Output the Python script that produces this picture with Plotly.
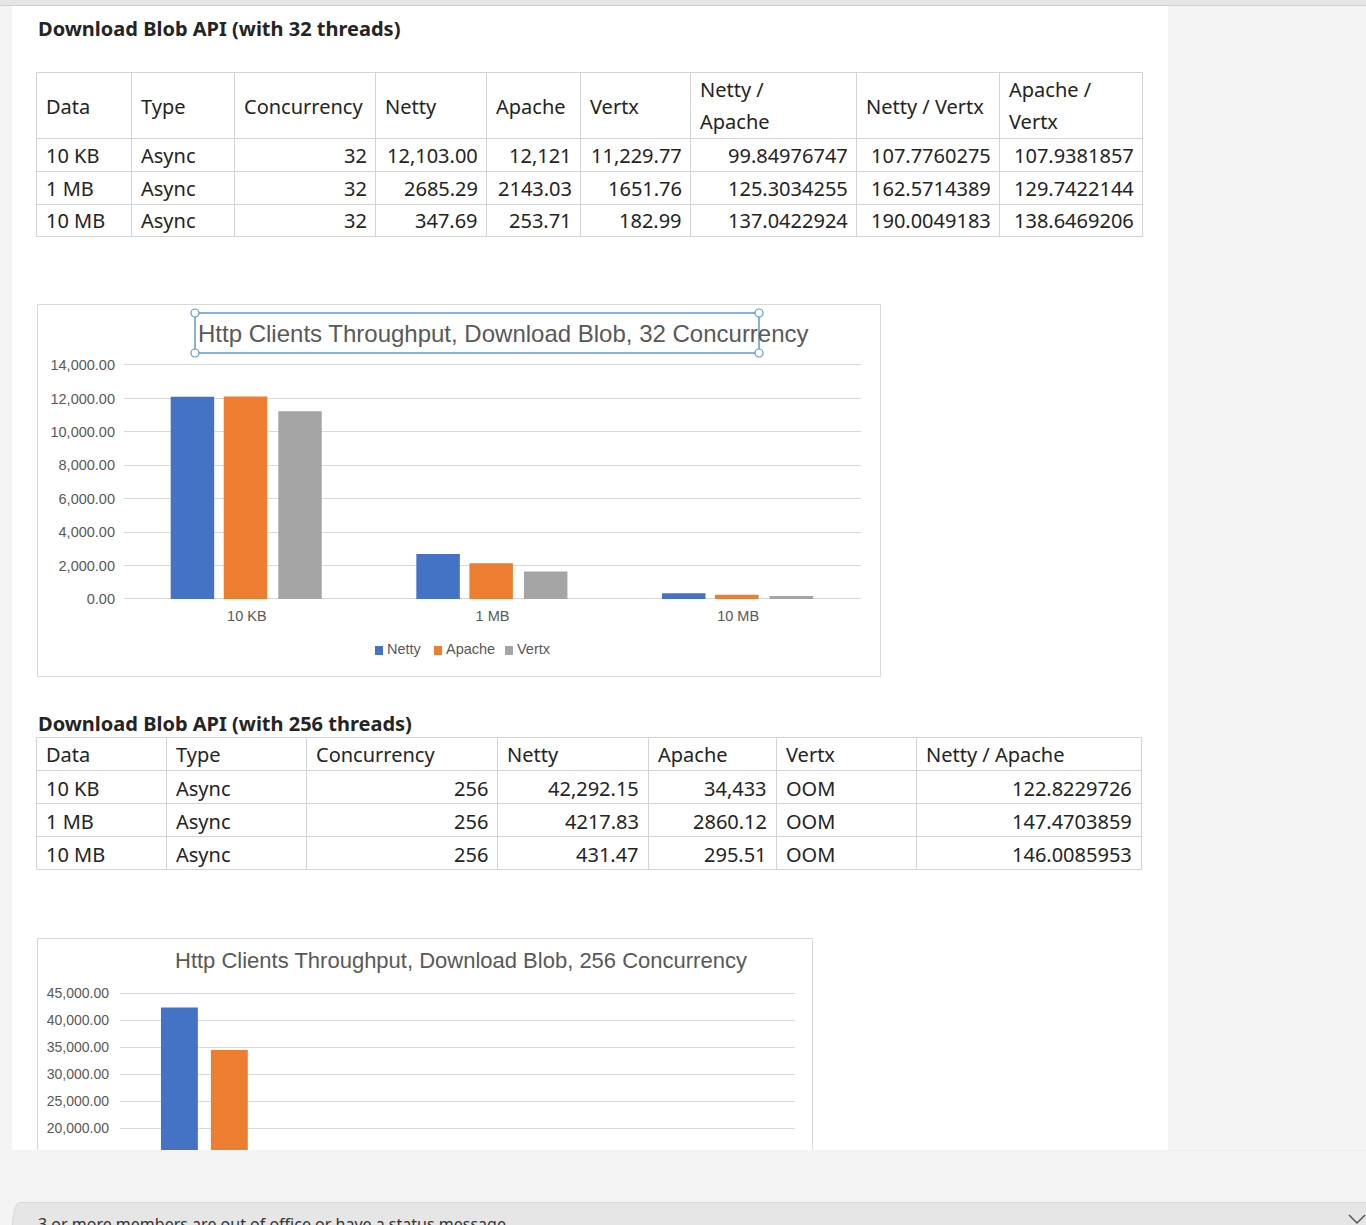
import plotly.graph_objects as go

# ---------------- data ----------------
categories = ["10 KB", "1 MB", "10 MB"]
req_type = ["Async", "Async", "Async"]

t1_title = "Download Blob API (with 32 threads)"
t1_headers = [["Data"], ["Type"], ["Concurrency"], ["Netty"], ["Apache"], ["Vertx"],
              ["Netty /", "Apache"], ["Netty / Vertx"], ["Apache /", "Vertx"]]
t1_conc = ["32", "32", "32"]
t1_netty = ["12,103.00", "2685.29", "347.69"]
t1_apache = ["12,121", "2143.03", "253.71"]
t1_vertx = ["11,229.77", "1651.76", "182.99"]
t1_netty_apache = ["99.84976747", "125.3034255", "137.0422924"]
t1_netty_vertx = ["107.7760275", "162.5714389", "190.0049183"]
t1_apache_vertx = ["107.9381857", "129.7422144", "138.6469206"]

t2_title = "Download Blob API (with 256 threads)"
t2_headers = ["Data", "Type", "Concurrency", "Netty", "Apache", "Vertx", "Netty / Apache"]
t2_conc = ["256", "256", "256"]
t2_netty = ["42,292.15", "4217.83", "431.47"]
t2_apache = ["34,433", "2860.12", "295.51"]
t2_vertx = ["OOM", "OOM", "OOM"]
t2_netty_apache = ["122.8229726", "147.4703859", "146.0085953"]

series_names = ["Netty", "Apache", "Vertx"]
chart1_title = "Http Clients Throughput, Download Blob, 32 Concurrency"
chart2_title = "Http Clients Throughput, Download Blob, 256 Concurrency"
status_text = "3 or more members are out of office or have a status message"


def num(s):
    try:
        return float(s.replace(",", ""))
    except ValueError:
        return None


netty32 = [num(s) for s in t1_netty]
apache32 = [num(s) for s in t1_apache]
vertx32 = [num(s) for s in t1_vertx]
netty256 = [num(s) for s in t2_netty]
apache256 = [num(s) for s in t2_apache]
vertx256 = [num(s) for s in t2_vertx]

# ---------------- helpers ----------------
W, H = 1366, 1225


def X(p):
    return p / W


def Y(p):
    return 1 - p / H


shapes = []
annotations = []

TXT = "#242424"
TFONT = "Noto Sans"
CFONT = "Liberation Sans"
CTXT = "#595959"
GRID = "#d9d9d9"
TLINE = "#d4d4d4"
colors = ["#4472c4", "#ed7d31", "#a5a5a5"]


def rect(x0, y0, x1, y1, fill=None, line=None, lw=1, layer="below"):
    shapes.append(dict(type="rect", xref="paper", yref="paper",
                       x0=X(x0), x1=X(x1), y0=Y(y0), y1=Y(y1),
                       fillcolor=fill if fill else "rgba(0,0,0,0)",
                       line=dict(color=line if line else "rgba(0,0,0,0)", width=lw if line else 0),
                       layer=layer))


def hline(x0, x1, y, color, lw=1, layer="below"):
    shapes.append(dict(type="line", xref="paper", yref="paper",
                       x0=X(x0), x1=X(x1), y0=Y(y), y1=Y(y),
                       line=dict(color=color, width=lw), layer=layer))


def vline(x, y0, y1, color, lw=1, layer="below"):
    shapes.append(dict(type="line", xref="paper", yref="paper",
                       x0=X(x), x1=X(x), y0=Y(y0), y1=Y(y1),
                       line=dict(color=color, width=lw), layer=layer))


def text(x, y, s, size=20, color=TXT, family=TFONT, anchor="left"):
    annotations.append(dict(xref="paper", yref="paper", x=X(x), y=Y(y), text=s,
                            showarrow=False, xanchor=anchor, yanchor="middle",
                            borderpad=0, font=dict(size=size, color=color, family=family)))


# ---------------- page background ----------------
rect(12, 6, 1168, 1150, fill="white")
rect(0, 0, W, 5, fill="#e6e6e6")
hline(0, W, 5.5, "#d0d0d0")

# ---------------- table 1 ----------------
text(37, 29, "<b>%s</b>" % t1_title, size=20)
c1 = [36, 131, 234, 375, 486, 580, 690, 856, 999, 1142]
r1 = [72, 138, 171, 204, 236]
rect(c1[0] + 0.5, r1[0] + 0.5, c1[-1] + 0.5, r1[-1] + 0.5, line=TLINE)
for c in c1[1:-1]:
    vline(c + 0.5, r1[0], r1[-1], TLINE)
for r in r1[1:-1]:
    hline(c1[0], c1[-1], r + 0.5, TLINE)
for i, h in enumerate(t1_headers):
    if len(h) == 1:
        text(c1[i] + 9, 106, h[0])
    else:
        text(c1[i] + 9, 90, h[0])
        text(c1[i] + 9, 122, h[1])
t1_cols = [categories, req_type, t1_conc, t1_netty, t1_apache, t1_vertx,
           t1_netty_apache, t1_netty_vertx, t1_apache_vertx]
t1_align = ["left", "left", "right", "right", "right", "right", "right", "right", "right"]
for ci, col in enumerate(t1_cols):
    for ri, v in enumerate(col):
        yc = (r1[ri + 1] + r1[ri + 2]) / 2 + 1
        if t1_align[ci] == "left":
            text(c1[ci] + 9, yc, v)
        else:
            text(c1[ci + 1] - 7, yc, v, anchor="right")

# ---------------- chart 1 ----------------
rect(37.5, 304.5, 880.5, 676.5, fill="white", line=GRID)
text(503, 334, chart1_title, size=24, color=CTXT, family=CFONT, anchor="center")
SEL = "#5b9bd5"
rect(195, 313, 759, 353, line=SEL, lw=1.5, layer="above")
for (hx, hy) in [(195, 313), (195, 353), (759, 313), (759, 353)]:
    shapes.append(dict(type="circle", xref="paper", yref="paper",
                       x0=X(hx - 4), x1=X(hx + 4), y0=Y(hy - 4), y1=Y(hy + 4),
                       fillcolor="white", line=dict(color=SEL, width=1.2), layer="above"))
leg = [(375, 386), (434, 445), (505, 516)]
for k, (sx, tx) in enumerate(leg):
    rect(sx, 646, sx + 8, 655, fill=colors[k])
    text(tx, 649, series_names[k], size=14.5, color=CTXT, family=CFONT)

# ---------------- table 2 ----------------
text(37, 723, "<b>%s</b>" % t2_title, size=20)
c2 = [36, 166, 306, 497, 648, 776, 916, 1141]
r2 = [737, 770, 803, 836, 869]
rect(c2[0] + 0.5, r2[0] + 0.5, c2[-1] + 0.5, r2[-1] + 0.5, line=TLINE)
for c in c2[1:-1]:
    vline(c + 0.5, r2[0], r2[-1], TLINE)
for r in r2[1:-1]:
    hline(c2[0], c2[-1], r + 0.5, TLINE)
for i, h in enumerate(t2_headers):
    text(c2[i] + 9, 755, h)
t2_cols = [categories, req_type, t2_conc, t2_netty, t2_apache, t2_vertx, t2_netty_apache]
t2_align = ["left", "left", "right", "right", "right", "left", "right"]
for ci, col in enumerate(t2_cols):
    for ri, v in enumerate(col):
        yc = (r2[ri + 1] + r2[ri + 2]) / 2 + 1.5
        if t2_align[ci] == "left":
            text(c2[ci] + 9, yc, v)
        else:
            text(c2[ci + 1] - 8, yc, v, anchor="right")

# ---------------- chart 2 ----------------
rect(37.5, 938.5, 812.5, 1170, fill="white", line=GRID)
text(461, 960, chart2_title, size=22, color=CTXT, family=CFONT, anchor="center")

# ---------------- bottom overlay ----------------
rect(0, 1150, W, H + 20, fill="#f4f4f4", layer="above")
hline(1168, W, 1150.5, "#ececec", layer="above")
shapes.append(dict(type="path", xref="paper", yref="paper",
                   path="M %f %f Q %f %f %f %f L %f %f L %f %f L %f %f Z" % (
                       X(12), Y(1240), X(12), Y(1202.5), X(20), Y(1202.5),
                       X(W + 5), Y(1202.5), X(W + 5), Y(1240), X(12), Y(1240)),
                   fillcolor="#e6e6e6", line=dict(color="#d8d8d8", width=1), layer="above"))
text(37, 1224, status_text, size=16, color="#333333", family=TFONT)
shapes.append(dict(type="path", xref="paper", yref="paper",
                   path="M %f %f L %f %f L %f %f" % (X(1349), Y(1215), X(1357), Y(1223), X(1365), Y(1215)),
                   line=dict(color="#555555", width=1.5), layer="above"))

# ---------------- traces ----------------
fig = go.Figure()
offs1 = [-0.31, -0.094, 0.128]
w1 = 0.177
for k, vals in enumerate([netty32, apache32, vertx32]):
    fig.add_trace(go.Bar(x=categories, y=vals, name=series_names[k], marker=dict(color=colors[k], line=dict(width=0)),
                         width=w1, offset=offs1[k], xaxis="x", yaxis="y", showlegend=False))
offs2 = [-0.318, -0.096, 0.126]
w2 = 0.164
for k, vals in enumerate([netty256, apache256, vertx256]):
    fig.add_trace(go.Bar(x=categories, y=vals, name=series_names[k], marker=dict(color=colors[k], line=dict(width=0)),
                         width=w2, offset=offs2[k], xaxis="x2", yaxis="y2", showlegend=False))

tickfont = dict(size=14.5, color=CTXT, family=CFONT)
tickfont2 = dict(size=14, color=CTXT, family=CFONT)

# chart 1 vertical scale: 0 at y=599px, 14000 at y=365px; pad the range so edge gridlines draw
k1 = (599 - 365) / 14000.0
pad1 = 300
y1_range = [-pad1, 14000 + pad1]
y1_dom = [Y(599 + pad1 * k1), Y(365 - pad1 * k1)]
# chart 2 vertical scale: 0 at y=1236px, 45000 at y=993px (clipped below 1150px)
k2 = (1236 - 993) / 45000.0
pad2 = 500
y2_bottom = (1236 - 1175) / k2
y2_range = [y2_bottom, 45000 + pad2]
y2_dom = [Y(1175), Y(993 - pad2 * k2)]

fig.update_layout(
    width=W, height=H, margin=dict(l=0, r=0, t=0, b=0),
    paper_bgcolor="#f4f4f4", plot_bgcolor="rgba(0,0,0,0)",
    barmode="overlay", template="none",
    shapes=shapes, annotations=annotations,
    xaxis=dict(domain=[X(124), X(861)], anchor="y", range=[-0.5, 2.5], type="category",
               showgrid=False, zeroline=False, showline=False, ticks="",
               tickfont=tickfont, ticklabelstandoff=1),
    yaxis=dict(domain=y1_dom, anchor="x", range=y1_range, dtick=2000, tick0=0,
               tickformat=",.2f", showgrid=True, gridcolor=GRID, gridwidth=1,
               zeroline=False, showline=False, ticks="", tickfont=tickfont, ticklabelstandoff=8),
    xaxis2=dict(domain=[X(120), X(795)], anchor="y2", range=[-0.5, 2.5], type="category",
                showgrid=False, zeroline=False, showline=False, ticks="",
                tickfont=tickfont2, ticklabelstandoff=8),
    yaxis2=dict(domain=y2_dom, anchor="x2", range=y2_range, dtick=5000,
                tick0=0, tickformat=",.2f", showgrid=True, gridcolor=GRID, gridwidth=1,
                zeroline=False, showline=False, ticks="", tickfont=tickfont2, ticklabelstandoff=10),
    font=dict(family=TFONT, color=TXT),
)

fig.write_html("out.html", config={"displayModeBar": False})
